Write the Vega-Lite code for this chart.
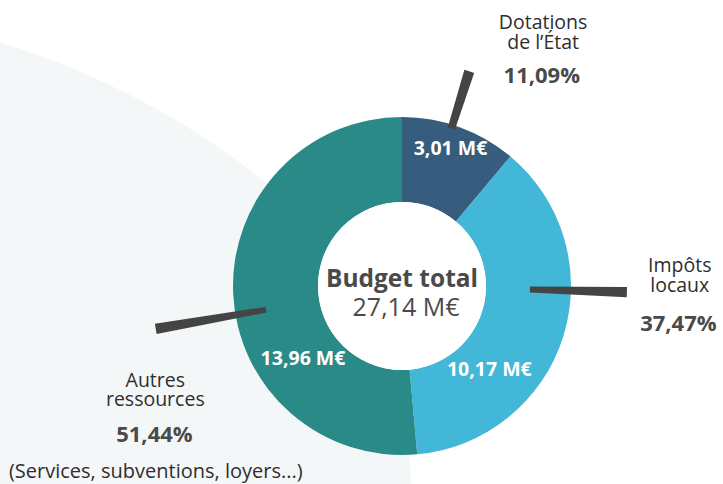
{
  "$schema": "https://vega.github.io/schema/vega-lite/v6.json",
  "width": 642,
  "height": 396,
  "autosize": "none",
  "padding": {"left": 81, "top": 88, "right": 0, "bottom": 0},
  "background": "#ffffff",
  "config": {"view": {"stroke": null}, "font": "Open Sans", "text": {"font": "Open Sans"}},
  "data": {"values": [
    {"cat": "Dotations", "ord": 1, "value": 3.01, "amount": "3,01 M€", "pct": "11,09%", "name": "Dotations\nde l’État"},
    {"cat": "Impôts", "ord": 2, "value": 10.17, "amount": "10,17 M€", "pct": "37,47%", "name": "Impôts\nlocaux"},
    {"cat": "Autres", "ord": 3, "value": 13.96, "amount": "13,96 M€", "pct": "51,44%", "name": "Autres\nressources", "note": "(Services, subventions, loyers...)"}
  ]},
  "layer": [
    {
      "data": {"values": [{"shape": "fond"}]},
      "mark": {"type": "arc", "outerRadius": 814, "innerRadius": 0, "theta": 0, "theta2": 6.2832, "xOffset": -642, "yOffset": 534, "fill": "#F4F7F8", "stroke": null},
      "encoding": {}
    },
    {
      "data": {"values": [{"shape": "cache"}]},
      "mark": {"type": "arc", "outerRadius": 1000, "innerRadius": 0, "theta": 0, "theta2": 6.2832, "xOffset": 1007, "yOffset": 134, "fill": "#ffffff", "stroke": null},
      "encoding": {}
    },
    {
      "mark": {"type": "arc", "outerRadius": 169, "innerRadius": 84, "stroke": null},
      "encoding": {
        "theta": {"field": "value", "type": "quantitative", "stack": true},
        "order": {"field": "ord", "type": "quantitative"},
        "color": {"field": "cat", "type": "nominal", "scale": {"domain": ["Dotations", "Impôts", "Autres"], "range": ["#365C7E", "#42B7D7", "#2A8A87"]}, "legend": null}
      }
    },
    {
      "data": {"values": [{"shape": "centre"}]},
      "mark": {"type": "arc", "outerRadius": 84, "innerRadius": 0, "theta": 0, "theta2": 6.2832, "fill": "#ffffff", "stroke": null},
      "encoding": {}
    },
    {
      "transform": [
        {"stack": "value", "groupby": [], "sort": [{"field": "ord", "order": "ascending"}], "as": ["v0", "v1"]},
        {"filter": "datum.cat === 'Dotations'"}
      ],
      "mark": {"type": "arc", "innerRadius": 165, "outerRadius": 225, "thetaOffset": 0.2810, "theta2Offset": 0.3264, "fill": "#444444", "stroke": null},
      "encoding": {
        "theta": {"field": "v0", "type": "quantitative", "stack": null},
        "theta2": {"field": "v0"}
      }
    },
    {
      "transform": [
        {"stack": "value", "groupby": [], "sort": [{"field": "ord", "order": "ascending"}], "as": ["v0", "v1"]},
        {"filter": "datum.cat === 'Impôts'"}
      ],
      "mark": {"type": "arc", "innerRadius": 128, "outerRadius": 225, "thetaOffset": 0.8784, "theta2Offset": 0.9238, "fill": "#444444", "stroke": null},
      "encoding": {
        "theta": {"field": "v0", "type": "quantitative", "stack": null},
        "theta2": {"field": "v0"}
      }
    },
    {
      "transform": [
        {"stack": "value", "groupby": [], "sort": [{"field": "ord", "order": "ascending"}], "as": ["v0", "v1"]},
        {"filter": "datum.cat === 'Autres'"}
      ],
      "mark": {"type": "arc", "innerRadius": 138, "outerRadius": 250, "thetaOffset": 1.4680, "theta2Offset": 1.5092, "fill": "#444444", "stroke": null},
      "encoding": {
        "theta": {"field": "v0", "type": "quantitative", "stack": null},
        "theta2": {"field": "v0"}
      }
    },
    {
      "mark": {"type": "text", "radius": 145, "thetaOffset": -0.0075, "fontWeight": "bold", "fontSize": 19.5, "fill": "#ffffff", "align": "center", "baseline": "middle"},
      "encoding": {
        "theta": {"field": "value", "type": "quantitative", "stack": true},
        "order": {"field": "ord", "type": "quantitative"},
        "detail": {"field": "cat", "type": "nominal"},
        "text": {"condition": {"test": "datum.cat === 'Dotations'", "field": "amount", "type": "nominal"}, "value": ""}
      }
    },
    {
      "mark": {"type": "text", "radius": 121, "thetaOffset": 0.4613, "fontWeight": "bold", "fontSize": 19.5, "fill": "#ffffff", "align": "center", "baseline": "middle"},
      "encoding": {
        "theta": {"field": "value", "type": "quantitative", "stack": true},
        "order": {"field": "ord", "type": "quantitative"},
        "detail": {"field": "cat", "type": "nominal"},
        "text": {"condition": {"test": "datum.cat === 'Impôts'", "field": "amount", "type": "nominal"}, "value": ""}
      }
    },
    {
      "mark": {"type": "text", "radius": 123, "thetaOffset": -0.5901, "fontWeight": "bold", "fontSize": 19.5, "fill": "#ffffff", "align": "center", "baseline": "middle"},
      "encoding": {
        "theta": {"field": "value", "type": "quantitative", "stack": true},
        "order": {"field": "ord", "type": "quantitative"},
        "detail": {"field": "cat", "type": "nominal"},
        "text": {"condition": {"test": "datum.cat === 'Autres'", "field": "amount", "type": "nominal"}, "value": ""}
      }
    },
    {
      "mark": {"type": "text", "radius": 291, "thetaOffset": 0.1578, "dy": -8, "fontSize": 19.5, "lineHeight": 19.5, "lineBreak": "\n", "fill": "#2e2e2e", "align": "center", "baseline": "middle"},
      "encoding": {
        "theta": {"field": "value", "type": "quantitative", "stack": true},
        "order": {"field": "ord", "type": "quantitative"},
        "detail": {"field": "cat", "type": "nominal"},
        "text": {"condition": {"test": "datum.cat === 'Dotations'", "field": "name", "type": "nominal"}, "value": ""}
      }
    },
    {
      "mark": {"type": "text", "radius": 278, "thetaOffset": -0.3428, "dy": -9, "fontSize": 19.5, "lineHeight": 19.5, "lineBreak": "\n", "fill": "#2e2e2e", "align": "center", "baseline": "middle"},
      "encoding": {
        "theta": {"field": "value", "type": "quantitative", "stack": true},
        "order": {"field": "ord", "type": "quantitative"},
        "detail": {"field": "cat", "type": "nominal"},
        "text": {"condition": {"test": "datum.cat === 'Impôts'", "field": "name", "type": "nominal"}, "value": ""}
      }
    },
    {
      "mark": {"type": "text", "radius": 268, "thetaOffset": -0.3562, "dy": -10, "fontSize": 19.5, "lineHeight": 19.5, "lineBreak": "\n", "fill": "#2e2e2e", "align": "center", "baseline": "middle"},
      "encoding": {
        "theta": {"field": "value", "type": "quantitative", "stack": true},
        "order": {"field": "ord", "type": "quantitative"},
        "detail": {"field": "cat", "type": "nominal"},
        "text": {"condition": {"test": "datum.cat === 'Autres'", "field": "name", "type": "nominal"}, "value": ""}
      }
    },
    {
      "mark": {"type": "text", "radius": 252, "thetaOffset": 0.2396, "fontSize": 22, "fontWeight": "bold", "fill": "#4a4a4a", "align": "center", "baseline": "middle"},
      "encoding": {
        "theta": {"field": "value", "type": "quantitative", "stack": true},
        "order": {"field": "ord", "type": "quantitative"},
        "detail": {"field": "cat", "type": "nominal"},
        "text": {"condition": {"test": "datum.cat === 'Dotations'", "field": "pct", "type": "nominal"}, "value": ""}
      }
    },
    {
      "mark": {"type": "text", "radius": 279, "thetaOffset": -0.1665, "fontSize": 22, "fontWeight": "bold", "fill": "#4a4a4a", "align": "center", "baseline": "middle"},
      "encoding": {
        "theta": {"field": "value", "type": "quantitative", "stack": true},
        "order": {"field": "ord", "type": "quantitative"},
        "detail": {"field": "cat", "type": "nominal"},
        "text": {"condition": {"test": "datum.cat === 'Impôts'", "field": "pct", "type": "nominal"}, "value": ""}
      }
    },
    {
      "mark": {"type": "text", "radius": 289, "thetaOffset": -0.4967, "fontSize": 22, "fontWeight": "bold", "fill": "#4a4a4a", "align": "center", "baseline": "middle"},
      "encoding": {
        "theta": {"field": "value", "type": "quantitative", "stack": true},
        "order": {"field": "ord", "type": "quantitative"},
        "detail": {"field": "cat", "type": "nominal"},
        "text": {"condition": {"test": "datum.cat === 'Autres'", "field": "pct", "type": "nominal"}, "value": ""}
      }
    },
    {
      "mark": {"type": "text", "radius": 310, "thetaOffset": -0.6079, "dy": -2, "fontSize": 20, "fill": "#2e2e2e", "align": "center", "baseline": "middle"},
      "encoding": {
        "theta": {"field": "value", "type": "quantitative", "stack": true},
        "order": {"field": "ord", "type": "quantitative"},
        "detail": {"field": "cat", "type": "nominal"},
        "text": {"condition": {"test": "datum.cat === 'Autres'", "field": "note", "type": "nominal"}, "value": ""}
      }
    },
    {
      "data": {"values": [{"label": "Budget total", "total": "27,14 M€"}]},
      "mark": {"type": "text", "fontSize": 24.5, "fontWeight": "bold", "fill": "#4a4a4a", "align": "center", "baseline": "middle", "dy": -6.5},
      "encoding": {"text": {"field": "label", "type": "nominal"}}
    },
    {
      "data": {"values": [{"label": "Budget total", "total": "27,14 M€"}]},
      "mark": {"type": "text", "fontSize": 25, "fill": "#4a4a4a", "align": "center", "baseline": "middle", "dy": 22, "dx": 4},
      "encoding": {"text": {"field": "total", "type": "nominal"}}
    }
  ]
}
